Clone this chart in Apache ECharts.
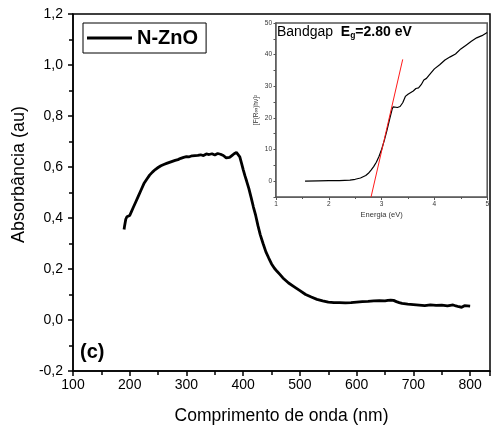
<!DOCTYPE html>
<html>
<head>
<meta charset="utf-8">
<script src="https://cdn.jsdelivr.net/npm/echarts@6/dist/echarts.min.js"></script>
<style>
  html, body { margin: 0; padding: 0; background: #fff; }
  #chart { width: 492px; height: 430px; }
</style>
</head>
<body>
<div id="chart"></div>
<script>
// espectro de absorção N-ZnO
const wavelengths = [190, 191, 193, 195, 198, 200, 203, 206, 210, 215, 220, 225, 230, 235, 240, 245, 250, 255, 260, 265,
  270, 275, 280, 285, 290, 295, 300, 305, 310, 315, 320, 325, 330, 335, 340, 345, 350, 355, 360, 365,
  370, 373, 376, 380, 384, 388, 391, 394, 397, 400, 403, 406, 410, 414, 418, 422, 426, 430, 435, 440,
  445, 450, 455, 460, 465, 470, 480, 490, 500, 510, 520, 530, 540, 550, 560, 570, 580, 590, 600, 610,
  620, 630, 640, 650, 655, 660, 665, 670, 675, 680, 690, 700, 710, 720, 730, 740, 750, 760, 770, 775,
  780, 785, 790, 795, 800]
const absorbance = [0.355, 0.37, 0.395, 0.405, 0.403, 0.41, 0.425, 0.44, 0.46, 0.485, 0.51, 0.535, 0.552, 0.568, 0.58, 0.59, 0.598, 0.605, 0.61, 0.614,
  0.618, 0.622, 0.626, 0.629, 0.634, 0.638, 0.641, 0.64, 0.644, 0.645, 0.646, 0.648, 0.645, 0.651, 0.649, 0.652, 0.647, 0.653, 0.65, 0.645,
  0.636, 0.633, 0.638, 0.645, 0.652, 0.657, 0.652, 0.64, 0.615, 0.59, 0.566, 0.545, 0.515, 0.48, 0.443, 0.41, 0.37, 0.335, 0.3, 0.267,
  0.243, 0.22, 0.203, 0.19, 0.178, 0.165, 0.145, 0.13, 0.115, 0.1, 0.09, 0.081, 0.075, 0.07, 0.068, 0.068, 0.067, 0.068, 0.07, 0.072,
  0.073, 0.075, 0.076, 0.075, 0.077, 0.078, 0.077, 0.072, 0.068, 0.065, 0.062, 0.06, 0.058, 0.056, 0.059, 0.057, 0.058, 0.055, 0.059, 0.055,
  0.052, 0.05, 0.056, 0.055, 0.054]

// inset: Tauc plot
const energy = [1.55, 1.8, 2.0, 2.2, 2.4, 2.5, 2.6, 2.7, 2.75, 2.8, 2.85, 2.9, 2.95, 3.0, 3.05, 3.1, 3.15, 3.2, 3.22, 3.25,
  3.3, 3.35, 3.4, 3.45, 3.5, 3.6, 3.65, 3.7, 3.75, 3.8, 3.85, 3.9, 4.0, 4.1, 4.2, 4.3, 4.4, 4.5, 4.6, 4.7,
  4.8, 4.9, 5.0]
const tauc = [0, 0.1, 0.15, 0.2, 0.35, 0.6, 1.0, 1.8, 2.5, 3.5, 4.6, 6, 7.8, 10, 12.8, 16, 19.5, 22.8, 23.5, 23.4,
  23.3, 23.6, 24.8, 26.8, 27.5, 28.5, 29.3, 29.5, 30.5, 32, 32.5, 33.5, 35.5, 36.8, 38.3, 39.3, 40.2, 41.8, 43, 44.2,
  45.3, 46, 47]
const fitX = [2.8, 3.4]
const fitY = [-5, 38.5]

const font = 'Liberation Sans, Arial, sans-serif'
const comma = v => v.toFixed(1).replace('.', ',')

const chart = echarts.init(document.getElementById('chart'))

const option = {
  animation: false,
  textStyle: { fontFamily: font },
  grid: [
    {
      left: 73, right: 2, top: 14, bottom: 59,
      show: true, borderColor: '#000', borderWidth: 1.5
    },
    {
      left: 276, right: 3, top: 23, bottom: 233,
      show: true, borderColor: '#555', borderWidth: 1.5, backgroundColor: '#fff', z: 5
    }
  ],
  legend: {
    data: [{ name: 'N-ZnO', icon: 'rect' }],
    left: 83, top: 23,
    padding: [5, 8, 5, 4],
    borderColor: '#000', borderWidth: 1,
    itemWidth: 45, itemHeight: 2.8, itemGap: 8,
    textStyle: { fontSize: 20, fontWeight: 'bold', color: '#000', fontFamily: font }
  },
  xAxis: [
    {
      gridIndex: 0,
      type: 'value', min: 100, max: 835, interval: 100,
      name: 'Comprimento de onda (nm)', nameLocation: 'middle', nameGap: 36,
      nameTextStyle: { fontSize: 17.5, color: '#000' },
      axisLine: { onZero: false, lineStyle: { color: '#000', width: 1.5 } },
      axisTick: { length: 5, lineStyle: { color: '#000', width: 1.5 } },
      minorTick: { show: true, splitNumber: 2, length: 4, lineStyle: { color: '#000', width: 1.5 } },
      axisLabel: { fontSize: 14, color: '#000', margin: 7, showMaxLabel: false,
        formatter: v => (v % 100 === 0 ? String(v) : '') },
      splitLine: { show: false }
    },
    {
      gridIndex: 1,
      type: 'value', min: 1, max: 5, interval: 1,
      name: 'Energia (eV)', nameLocation: 'middle', nameGap: 14,
      nameTextStyle: { fontSize: 7.5, color: '#333' },
      axisLine: { onZero: false, lineStyle: { color: '#555', width: 1.5 } },
      axisTick: { length: 3, lineStyle: { color: '#555' } },
      minorTick: { show: true, splitNumber: 2, length: 2, lineStyle: { color: '#555' } },
      axisLabel: { fontSize: 6.5, color: '#333', margin: 4 },
      splitLine: { show: false }
    }
  ],
  yAxis: [
    {
      gridIndex: 0,
      type: 'value', min: -0.2, max: 1.2, interval: 0.2,
      name: 'Absorbância (au)', nameLocation: 'middle', nameGap: 38,
      nameTextStyle: { fontSize: 18, color: '#000', padding: [0, 0, 0, 36] },
      axisLine: { onZero: false, lineStyle: { color: '#000', width: 1.5 } },
      axisTick: { length: 5, lineStyle: { color: '#000', width: 1.5 } },
      minorTick: { show: true, splitNumber: 2, length: 4, lineStyle: { color: '#000', width: 1.5 } },
      axisLabel: { fontSize: 14, color: '#000', margin: 10, formatter: comma },
      splitLine: { show: false }
    },
    {
      gridIndex: 1,
      type: 'value', min: -5, max: 50, interval: 5,
      name: '[F(R\u221e)h\u03bd]\u00b2', nameLocation: 'middle', nameGap: 16,
      nameTextStyle: { fontSize: 6.5, color: '#333' },
      axisLine: { onZero: false, lineStyle: { color: '#555', width: 1.5 } },
      axisTick: { length: 2.5, lineStyle: { color: '#555' } },
      axisLabel: { fontSize: 6.5, color: '#333', margin: 4,
        formatter: v => (v >= 0 && v % 10 === 0 ? String(v) : '') },
      splitLine: { show: false }
    }
  ],
  series: [
    {
      name: 'N-ZnO',
      type: 'line',
      xAxisIndex: 0, yAxisIndex: 0,
      symbol: 'none',
      lineStyle: { color: '#000', width: 2.8 },
      itemStyle: { color: '#000' },
      data: wavelengths.map((w, i) => [w, absorbance[i]])
    },
    {
      name: 'tauc',
      type: 'line',
      xAxisIndex: 1, yAxisIndex: 1,
      symbol: 'none', z: 6,
      lineStyle: { color: '#000', width: 1.2 },
      data: energy.map((e, i) => [e, tauc[i]])
    },
    {
      name: 'ajuste',
      type: 'line',
      xAxisIndex: 1, yAxisIndex: 1,
      symbol: 'none', z: 7,
      lineStyle: { color: '#ff1a1a', width: 1 },
      data: fitX.map((e, i) => [e, fitY[i]])
    }
  ],
  graphic: [
    {
      type: 'text', left: 80, top: 342, z: 10,
      style: { text: '(c)', font: 'bold 20px ' + font, fill: '#000' }
    },
    {
      type: 'text', left: 277, top: 25, z: 10,
      style: {
        text: '{n|Bandgap  }{b|E}{s|g}{b|=2.80 eV}',
        rich: {
          n: { fontSize: 14, fontFamily: font, fill: '#000' },
          b: { fontSize: 14, fontWeight: 'bold', fontFamily: font, fill: '#000' },
          s: { fontSize: 8.5, fontWeight: 'bold', fontFamily: font, fill: '#000', padding: [8, 0, 0, 0] }
        }
      }
    }
  ]
}

chart.setOption(option)
</script>
</body>
</html>
